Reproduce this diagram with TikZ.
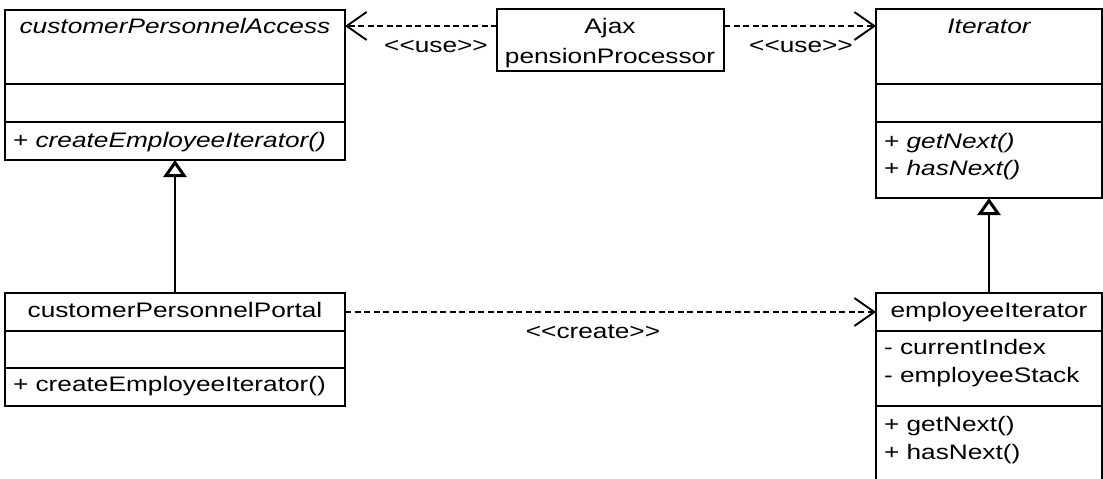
\documentclass[tikz,border=0pt]{standalone}
\usepackage{fontspec}
\setmainfont[FakeStretch=1.25]{Liberation Sans}
\usetikzlibrary{arrows.meta}
\begin{document}
\begin{tikzpicture}[x=1pt,y=-1pt,
  every node/.style={inner sep=0pt,outer sep=0pt},
  txt/.style={font=\fontsize{21pt}{26pt}\selectfont},
  umlbox/.style={draw,line width=1.6pt,anchor=north west},
  sep/.style={line width=1.6pt},
  dep/.style={line width=1.6pt,dash pattern=on 6pt off 3.5pt,-{Straight Barb[length=20pt,width=28pt,line width=1.9pt]}},
  inh/.style={line width=1.6pt,-{Triangle[open,length=17pt,width=23pt,line width=3pt]}}]
\clip (0,0) rectangle (1103,479);
\fill[white] (0,0) rectangle (1103,479);
% boxes
\node[umlbox,minimum width=340pt,minimum height=150pt] (cpa) at (5,10) {};
\node[umlbox,minimum width=340pt,minimum height=113pt] (cpp) at (5,293) {};
\node[umlbox,minimum width=227pt,minimum height=62pt] (ajax) at (497,9) {};
\node[umlbox,minimum width=226pt,minimum height=189pt] (it) at (876,9) {};
\node[umlbox,minimum width=226pt,minimum height=240pt] (ei) at (876,293) {};
% compartments
\draw[sep] (cpa.west |- 0,84) -- (cpa.east |- 0,84);
\draw[sep] (cpa.west |- 0,122) -- (cpa.east |- 0,122);
\draw[sep] (cpp.west |- 0,331) -- (cpp.east |- 0,331);
\draw[sep] (cpp.west |- 0,368) -- (cpp.east |- 0,368);
\draw[sep] (it.west |- 0,84) -- (it.east |- 0,84);
\draw[sep] (it.west |- 0,122) -- (it.east |- 0,122);
\draw[sep] (ei.west |- 0,331) -- (ei.east |- 0,331);
\draw[sep] (ei.west |- 0,406) -- (ei.east |- 0,406);
% texts
\node[txt,anchor=base] (cpaT) at (175,33) {\itshape customerPersonnelAccess};
\node[txt,anchor=base west] (cpaO) at (13,147) {+ \itshape createEmployeeIterator()};
\node[txt,anchor=base] (cppT) at (175,317) {customerPersonnelPortal};
\node[txt,anchor=base west] (cppO) at (13,391) {+ createEmployeeIterator()};
\node[txt,anchor=base] (ajaxA) at (610,33) {Ajax};
\node[txt,anchor=base] (ajaxB) at (610,63) {pensionProcessor};
\node[txt,anchor=base] (itT) at (989,33) {\itshape Iterator};
\node[txt,anchor=base west] (itO1) at (884,148) {+ \itshape getNext()};
\node[txt,anchor=base west] (itO2) at (884,175) {+ \itshape hasNext()};
\node[txt,anchor=base] (eiT) at (989,317) {employeeIterator};
\node[txt,anchor=base west] (eiA1) at (884,354) {- currentIndex};
\node[txt,anchor=base west] (eiA2) at (884,382) {- employeeStack};
\node[txt,anchor=base west] (eiO1) at (884,431) {+ getNext()};
\node[txt,anchor=base west] (eiO2) at (884,459) {+ hasNext()};
% connectors
\coordinate (u1) at ([yshift=14pt]ajax.west);
\coordinate (u2) at ([yshift=14pt]ajax.east);
\coordinate (c1) at ([yshift=37.5pt]cpp.east);
\draw[dep] (u1) -- (u1 -| cpa.east);
\draw[dep] (u2) -- (u2 -| it.west);
\draw[dep] (c1) -- (c1 -| ei.west);
\draw[inh] (cpp.north) -- (cpa.south);
\draw[inh] (cpp.north -| ei.north) -- (it.south);
% labels
\node[txt,anchor=base] (l1) at (436,52) {{<}{<}use{>}{>}};
\node[txt,anchor=base] (l2) at (801,52) {{<}{<}use{>}{>}};
\node[txt,anchor=base] (l3) at (593,338) {{<}{<}create{>}{>}};
\end{tikzpicture}
\end{document}
